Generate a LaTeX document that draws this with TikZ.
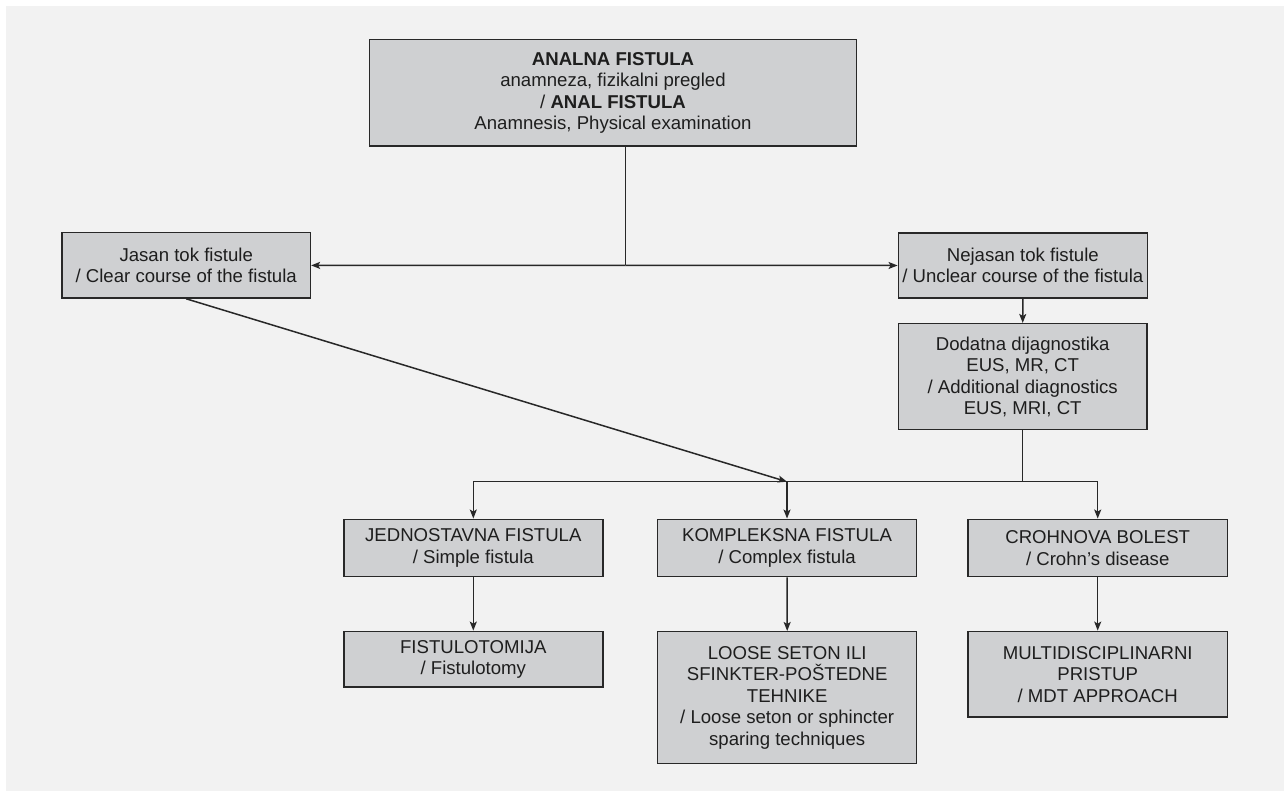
\documentclass[tikz,border=0pt]{standalone}
\usepackage{fontspec}
\setmainfont{Liberation Sans}
\usetikzlibrary{arrows.meta}
\definecolor{bgc}{RGB}{242,242,242}
\definecolor{boxc}{RGB}{207,208,210}
\definecolor{linec}{RGB}{40,40,40}
\definecolor{txtc}{RGB}{30,30,30}
\begin{document}
\begin{tikzpicture}[x=1pt,y=-1pt,
  box/.style={draw=linec, line width=1.5pt, fill=boxc, text=txtc, align=center,
    inner sep=0pt, font=\fontsize{18.6}{21.5}\selectfont},
  conn/.style={draw=linec, line width=1.5pt},
  arr/.style={conn, -{Stealth[length=9pt,width=7pt,inset=2pt]}}]
\useasboundingbox (0,0) rectangle (1284,791);
\fill[white] (0,0) rectangle (1284,791);
\fill[bgc] (6,6) rectangle (1284,791);

\node[box, minimum width=487.4pt, minimum height=106.7pt] (top) at (613,92.7)
  {{\bfseries ANALNA FISTULA}\\anamneza, fizikalni pregled\\/ {\bfseries ANAL FISTULA}\\Anamnesis, Physical examination};
\node[box, minimum width=248.3pt, minimum height=65.3pt] (jasan) at (186.2,265.4)
  {Jasan tok fistule\\/ Clear course of the fistula};
\node[box, minimum width=249pt, minimum height=65pt] (nejasan) at (1022.8,265.5)
  {Nejasan tok fistule\\/ Unclear course of the fistula};
\node[box, minimum width=248.7pt, minimum height=106pt] (dod) at (1022.7,376.7)
  {Dodatna dijagnostika\\EUS, MR, CT\\/ Additional diagnostics\\EUS, MRI, CT};
\node[box, minimum width=259pt, minimum height=57.4pt] (jed) at (473.3,548)
  {JEDNOSTAVNA FISTULA\\/ Simple fistula};
\node[box, minimum width=259pt, minimum height=57.4pt] (komp) at (787,548)
  {KOMPLEKSNA FISTULA\\/ Complex fistula};
\node[box, minimum width=259.3pt, minimum height=57.4pt] (crohn) at (1097.7,548)
  {CROHNOVA BOLEST\\/ Crohn’s disease};
\node[box, minimum width=259pt, minimum height=55.7pt] (fist) at (473.3,659.2)
  {FISTULOTOMIJA\\/ Fistulotomy};
\node[box, minimum width=259pt, minimum height=131.6pt] (loose) at (787.2,697.5)
  {LOOSE SETON ILI\\SFINKTER-POŠTEDNE\\TEHNIKE\\/ Loose seton or sphincter\\sparing techniques};
\node[box, minimum width=259.3pt, minimum height=85.7pt] (mdt) at (1097.7,674.2)
  {MULTIDISCIPLINARNI\\PRISTUP\\/ MDT APPROACH};

\coordinate (split) at (625.3,265.3);
\coordinate (bus) at (787,481.7);

\draw[conn] (top.south -| split) -- (split);
\draw[arr] (split) -- (jasan.east);
\draw[arr] (split) -- (nejasan.west);
\draw[arr] (nejasan.south) -- (dod.north);
\draw[conn] (dod.south) -- (dod.south |- bus);
\draw[conn] (jed.north |- bus) -- (crohn.north |- bus);
\draw[arr] (jasan.south) -- (bus);
\draw[arr] (jed.north |- bus) -- (jed.north);
\draw[arr] (bus) -- (komp.north);
\draw[arr] (crohn.north |- bus) -- (crohn.north);
\draw[arr] (jed.south) -- (fist.north);
\draw[arr] (komp.south) -- (loose.north);
\draw[arr] (crohn.south) -- (mdt.north);
\end{tikzpicture}
\end{document}
